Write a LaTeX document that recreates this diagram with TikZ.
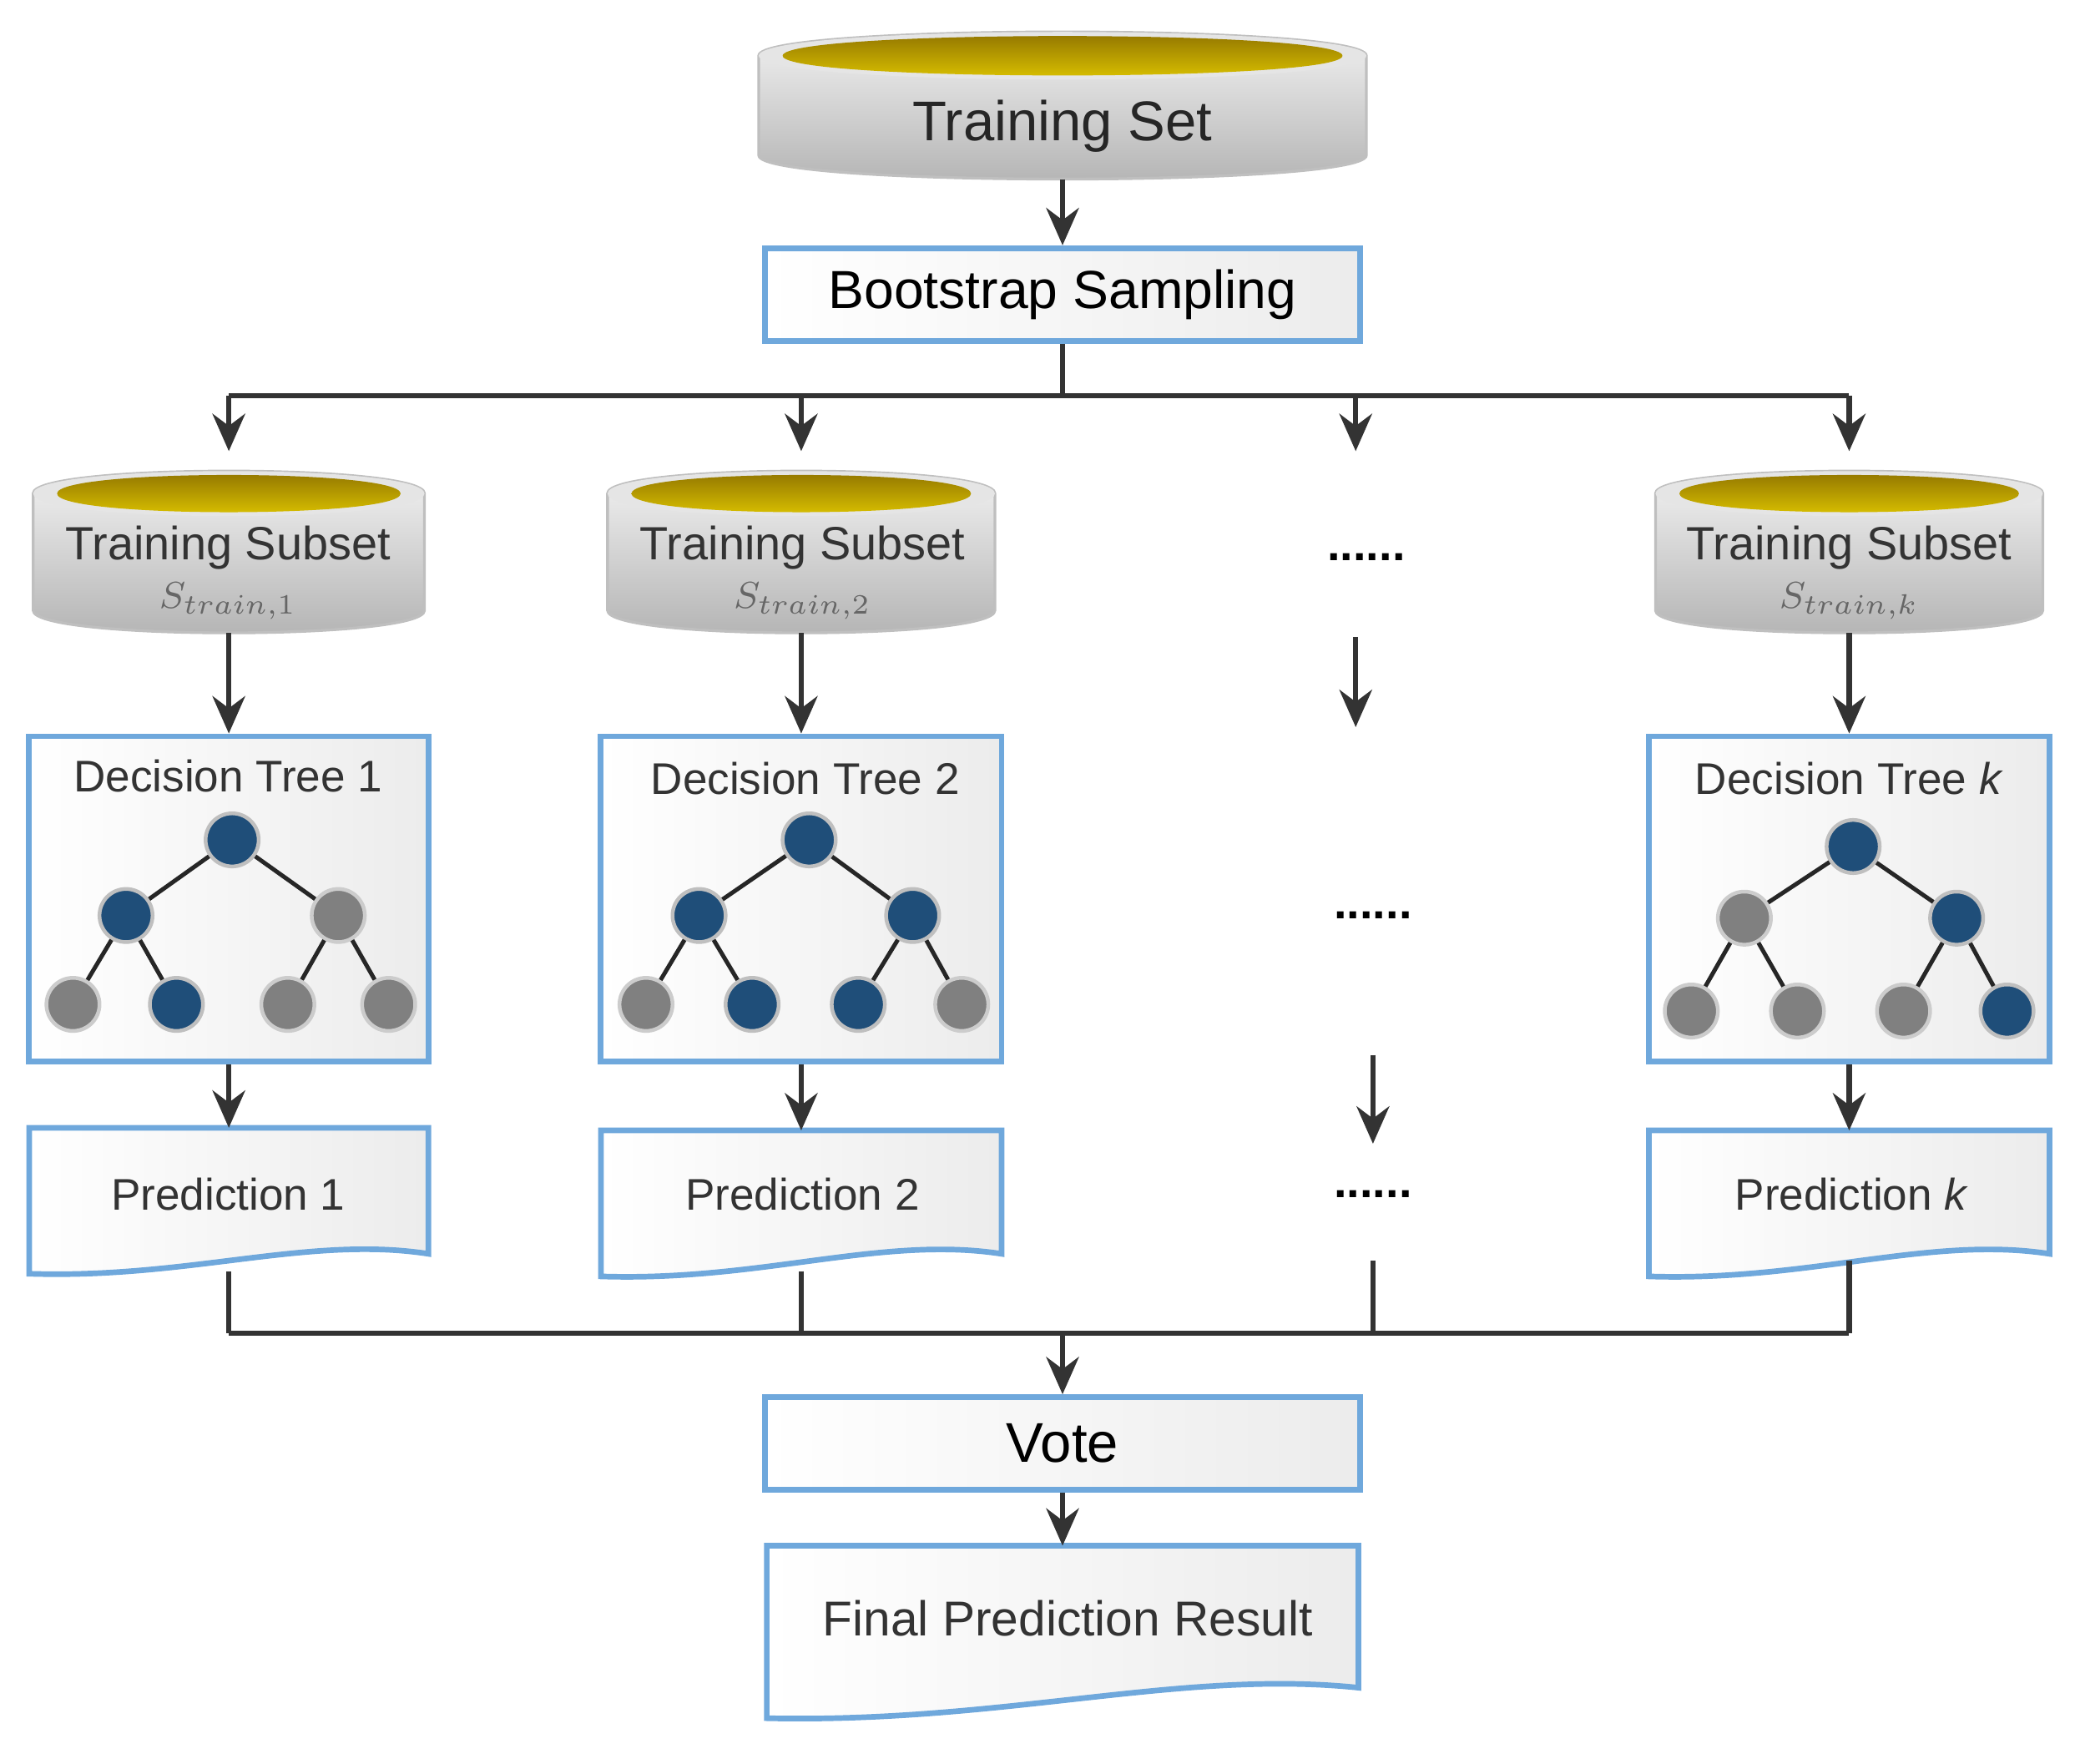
\documentclass[tikz,border=0pt]{standalone}
\usepackage{fontspec}
\setmainfont{Liberation Sans}
\usetikzlibrary{arrows.meta}
\definecolor{bord}{HTML}{6FA8DC}
\definecolor{tblue}{HTML}{1F4E79}
\definecolor{tgray}{HTML}{808080}
\definecolor{gold}{HTML}{C9A000}
\definecolor{ln}{HTML}{333333}
\tikzset{
 box/.style={draw=bord,line width=1.2pt,left color=white,right color=gray!15,inner sep=0pt},
 arr/.style={draw=ln,line width=1.1pt,-{Stealth[length=8pt,width=7pt]}},
 ln/.style={draw=ln,line width=1.1pt},
 bn/.style={circle,fill=tblue,draw=gray!50,line width=0.8pt,minimum width=0.4cm,inner sep=0pt},
 gn/.style={circle,fill=tgray,draw=gray!40,line width=0.8pt,minimum width=0.4cm,inner sep=0pt},
 edge/.style={draw=black!85,line width=0.9pt},
 ttl/.style={font=\fontsize{8.5pt}{10pt}\selectfont,text=black!80},
 sub/.style={font=\fontsize{8pt}{9pt}\selectfont,text=black!60},
}
\newcommand\mycyl[6]{% x1 x2 ytop(center top ellipse) ybot ry name
 \shade[top color=gray!8,bottom color=gray!60,draw=gray!50,line width=0.6pt]
  (#1,#3) -- (#1,#4) .. controls (#1,#4+1.33*#5) and (#2,#4+1.33*#5) .. (#2,#4) -- (#2,#3)
  .. controls (#2,#3-1.33*#5) and (#1,#3-1.33*#5) .. (#1,#3) -- cycle;
 \fill[gray!20] (#1,#3) .. controls (#1,#3-1.33*#5) and (#2,#3-1.33*#5) .. (#2,#3)
  .. controls (#2,#3+1.33*#5) and (#1,#3+1.33*#5) .. (#1,#3);
 \shade[top color=gold!70!black,bottom color=gold!60!yellow] (#1+18,#3) .. controls (#1+18,#3-1.1*#5) and (#2-18,#3-1.1*#5) .. (#2-18,#3)
  .. controls (#2-18,#3+1.1*#5) and (#1+18,#3+1.1*#5) .. (#1+18,#3);
 \coordinate (#6-n) at ({(#1+#2)/2},#3-#5);
 \coordinate (#6-s) at ({(#1+#2)/2},#4+#5);
}
\newcommand\mydoc[6]{% x1 x2 ytop yright yleft name
 \shade[left color=white,right color=gray!15,draw=bord,line width=1.2pt]
  (#1,#3) -- (#2,#3) -- (#2,#4) .. controls ({#2-0.3*(#2-#1)},#4-14) and ({#1+0.4*(#2-#1)},#5+4) .. (#1,#5) -- cycle;
 \coordinate (#6-n) at ({(#1+#2)/2},#3);
 \coordinate (#6-s) at ({(#1+#2)/2},{(#4+#5)/2});
}
\begin{document}
\begin{tikzpicture}[x=0.01cm,y=-0.01cm]
\useasboundingbox (0,0) rectangle (1568,1329);
% training set
\mycyl{572}{1030}{42}{117}{18}{ts}
\node[font=\fontsize{12pt}{14pt}\selectfont,text=black!85] (tst) at (801,95) {Training Set};
\node[box,minimum width=4.48cm,minimum height=0.7cm,font=\fontsize{11.5pt}{13pt}\selectfont] (boot) at (801,222) {Bootstrap Sampling};
\draw[arr] (ts-s) -- (boot.north);
% split
\coordinate (sp) at (801,298);
\coordinate (h1) at (172.5,298); \coordinate (h2) at (604,298); \coordinate (h3) at (1022,298); \coordinate (h4) at (1394,298);
\coordinate (a1) at (172.5,340); \coordinate (a2) at (604,340); \coordinate (a3) at (1022,340); \coordinate (a4) at (1394,340);
\draw[ln] (boot.south) -- (sp);
\draw[ln] (h1) -- (h4);
\foreach \i in {1,2,3,4} \draw[arr] (h\i) -- (a\i);
% subsets
\mycyl{25}{320}{372}{460}{17}{c1}
\mycyl{458}{750}{372}{460}{17}{c2}
\mycyl{1248}{1540}{372}{460}{17}{ck}
\node[ttl,font=\fontsize{10pt}{12pt}\selectfont] (t1) at (172,413) {Training Subset};
\node[ttl,font=\fontsize{10pt}{12pt}\selectfont] (t2) at (605,413) {Training Subset};
\node[ttl,font=\fontsize{10pt}{12pt}\selectfont] (tk) at (1394,413) {Training Subset};
\node[sub] (s1) at (172,453) {$S_{train,1}$};
\node[sub] (s2) at (605,453) {$S_{train,2}$};
\node[sub] (sk) at (1394,453) {$S_{train,k}$};
\node (d1) at (1030,420) {\textbf{......}};
% decision trees
\node[box,minimum width=3.01cm,minimum height=2.45cm] (dt1) at (172.5,677.5) {};
\node[box,minimum width=3.02cm,minimum height=2.45cm] (dt2) at (604,677.5) {};
\node[box,minimum width=3.02cm,minimum height=2.45cm] (dtk) at (1394,677.5) {};
\node[ttl,font=\fontsize{9.5pt}{11pt}\selectfont] at (172,585) {Decision Tree 1};
\node[ttl,font=\fontsize{9.5pt}{11pt}\selectfont] at (607,587) {Decision Tree 2};
\node[ttl,font=\fontsize{9.5pt}{11pt}\selectfont] at (1394,587) {Decision Tree \textit{k}};
\coordinate (d2a) at (1022,480); \coordinate (d2b) at (1022,548);
\draw[arr] (c1-s) -- (dt1.north);
\draw[arr] (c2-s) -- (dt2.north);
\draw[arr] (ck-s) -- (dtk.north);
\draw[arr] (d2a) -- (d2b);
\node (d2) at (1035,690) {\textbf{......}};
% tree 1
\node[bn] (r1) at (175,633) {}; \node[bn] (l1) at (95,690) {}; \node[gn] (q1) at (255,690) {};
\node[gn] (a11) at (55,757) {}; \node[bn] (a12) at (133,757) {}; \node[gn] (a13) at (217,757) {}; \node[gn] (a14) at (293,757) {};
\draw[edge] (r1)--(l1) (r1)--(q1) (l1)--(a11) (l1)--(a12) (q1)--(a13) (q1)--(a14);
% tree 2
\node[bn] (r2) at (610,633) {}; \node[bn] (l2) at (527,690) {}; \node[bn] (q2) at (688,690) {};
\node[gn] (a21) at (487,757) {}; \node[bn] (a22) at (567,757) {}; \node[bn] (a23) at (647,757) {}; \node[gn] (a24) at (725,757) {};
\draw[edge] (r2)--(l2) (r2)--(q2) (l2)--(a21) (l2)--(a22) (q2)--(a23) (q2)--(a24);
% tree k
\node[bn] (rk) at (1397,638) {}; \node[gn] (lk) at (1315,692) {}; \node[bn] (qk) at (1475,692) {};
\node[gn] (ak1) at (1275,762) {}; \node[gn] (ak2) at (1355,762) {}; \node[gn] (ak3) at (1435,762) {}; \node[bn] (ak4) at (1513,762) {};
\draw[edge] (rk)--(lk) (rk)--(qk) (lk)--(ak1) (lk)--(ak2) (qk)--(ak3) (qk)--(ak4);
% predictions
\mydoc{22}{323}{850}{945}{960}{p1}
\mydoc{453}{755}{852}{945}{962}{p2}
\mydoc{1243}{1545}{852}{945}{962}{pk}
\node[ttl,font=\fontsize{9.5pt}{11pt}\selectfont] at (172,900) {Prediction 1};
\node[ttl,font=\fontsize{9.5pt}{11pt}\selectfont] at (605,900) {Prediction 2};
\node[ttl,font=\fontsize{9.5pt}{11pt}\selectfont] at (1396,900) {Prediction \textit{k}};
\draw[arr] (dt1.south) -- (p1-n);
\draw[arr] (dt2.south) -- (p2-n);
\draw[arr] (dtk.south) -- (pk-n);
\coordinate (d3a) at (1035,795); \coordinate (d3b) at (1035,862);
\draw[arr] (d3a) -- (d3b);
\node (d3) at (1035,900) {\textbf{......}};
% merge
\coordinate (m1) at (172.5,958); \coordinate (m2) at (604,958); \coordinate (m3) at (1035,950); \coordinate (m4) at (1394,950);
\coordinate (n1) at (172.5,1005); \coordinate (n2) at (604,1005); \coordinate (n3) at (1035,1005); \coordinate (n4) at (1394,1005);
\coordinate (mc) at (801,1005);
\foreach \i in {1,2,3,4} \draw[ln] (m\i) -- (n\i);
\draw[ln] (n1) -- (n4);
\node[box,minimum width=4.48cm,minimum height=0.7cm,font=\fontsize{12pt}{14pt}\selectfont] (vote) at (801,1088) {Vote};
\draw[arr] (mc) -- (vote.north);
\mydoc{578}{1024}{1165}{1272}{1295}{fp}
\node[ttl,font=\fontsize{10.5pt}{12pt}\selectfont] at (805,1220) {Final Prediction Result};
\draw[arr] (vote.south) -- (fp-n);
\end{tikzpicture}
\end{document}
